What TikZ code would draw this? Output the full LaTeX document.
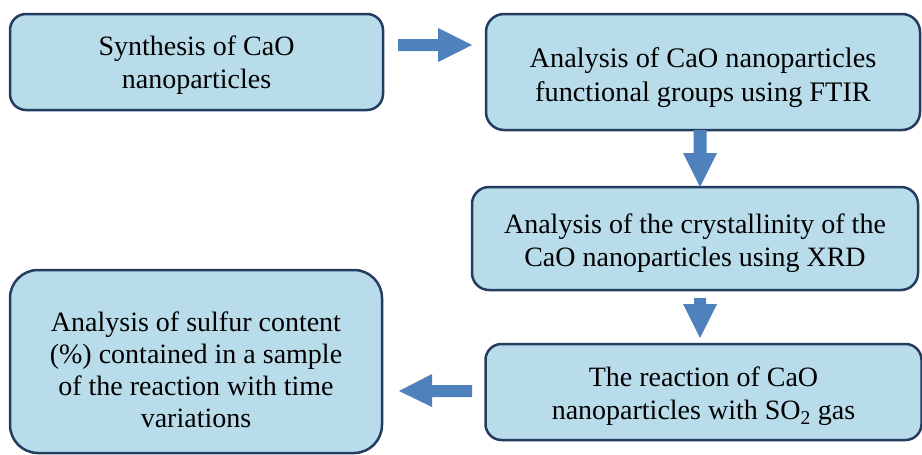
\documentclass[tikz,border=0pt]{standalone}
\usepackage{fontspec}
\setmainfont{Liberation Serif}
\definecolor{boxfill}{RGB}{185,220,234}
\definecolor{boxdraw}{RGB}{35,60,95}
\definecolor{arrowblue}{RGB}{79,129,189}
\newcommand{\mytopstrut}[1]{\rule{0pt}{#1}}
\begin{document}
\begin{tikzpicture}[x=1pt,y=-1pt,
  box/.style={draw=boxdraw, line width=2.5pt, fill=boxfill, rounded corners=16pt,
    align=center, inner sep=0pt, font=\fontsize{28}{33}\selectfont},
  blockarrow/.style={fill=arrowblue}]
\useasboundingbox (0,0) rectangle (922,455);
\node[box, minimum width=373pt, minimum height=96pt] (b1) at (196.5,62) {\mytopstrut{26pt}Synthesis of CaO\\nanoparticles};
\node[box, minimum width=434pt, minimum height=116pt, rounded corners=18pt, font=\fontsize{28.3}{34.5}\selectfont] (b2) at (703,72) {\mytopstrut{31.5pt}Analysis of CaO nanoparticles\\functional groups using FTIR};
\node[box, minimum width=446pt, minimum height=103pt, rounded corners=17pt] (b3) at (695,238.5) {\mytopstrut{28.5pt}Analysis of the crystallinity of the\\CaO nanoparticles using XRD};
\node[box, minimum width=372pt, minimum height=183pt, rounded corners=28pt, font=\fontsize{28}{32}\selectfont] (b4) at (196,361.5) {\mytopstrut{35.5pt}Analysis of sulfur content\\(\%) contained in a sample\\of the reaction with time\\variations};
\node[box, minimum width=436pt, minimum height=96pt] (b5) at (703.5,392) {\mytopstrut{28.5pt}The reaction of CaO\\nanoparticles with SO\textsubscript{2} gas};
% block arrows
\fill[blockarrow] (398,39) -- (438,39) -- (438,28) -- (472,45) -- (438,62) -- (438,51) -- (398,51) -- cycle;
\fill[blockarrow] (693.5,130) -- (706.5,130) -- (706.5,153) -- (717,153) -- (700,187) -- (683,153) -- (693.5,153) -- cycle;
\fill[blockarrow] (694,298) -- (706,298) -- (706,304) -- (717,304) -- (700,338) -- (683,304) -- (694,304) -- cycle;
\fill[blockarrow] (472,385) -- (432,385) -- (432,374) -- (399,391) -- (432,407) -- (432,397) -- (472,397) -- cycle;
\end{tikzpicture}
\end{document}
